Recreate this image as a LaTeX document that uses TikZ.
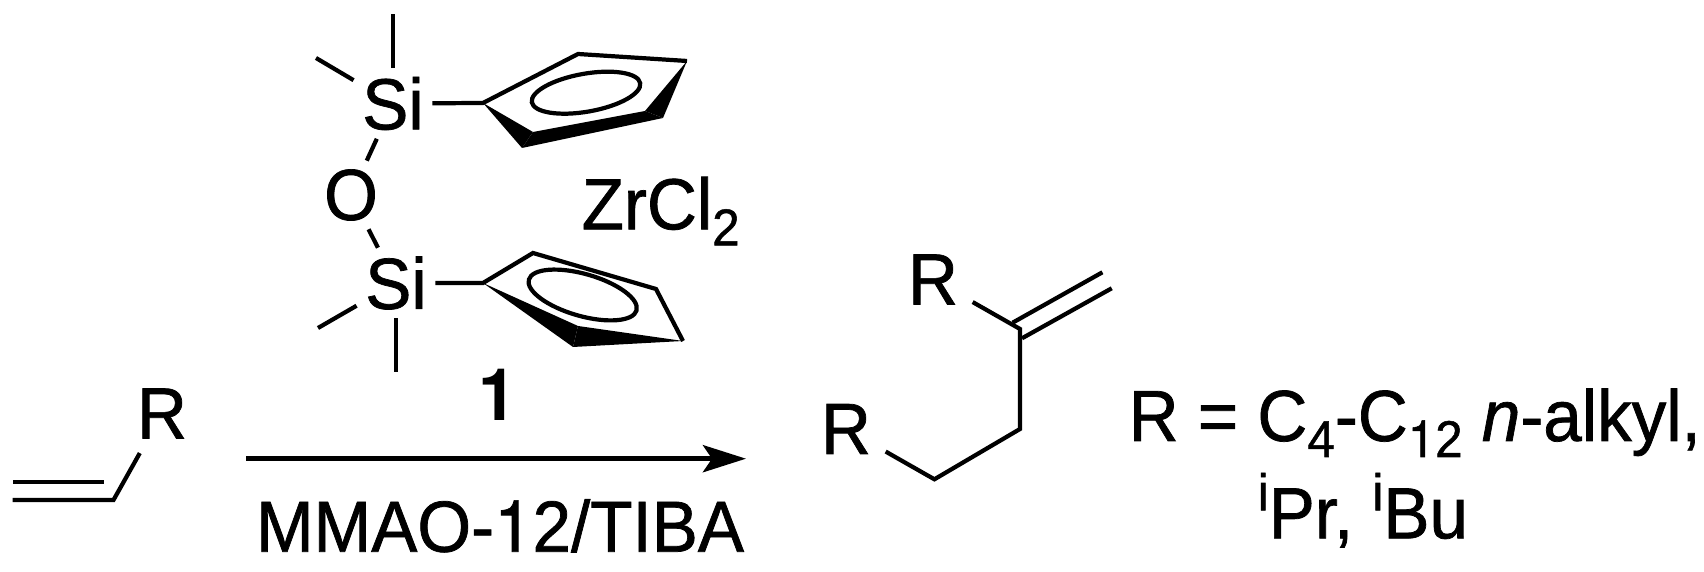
\documentclass[tikz,border=0pt]{standalone}
\usepackage{fontspec}
\setmainfont{Liberation Sans}[FakeBold=1,FakeStretch=0.955]
\newfontfamily\onefont{TeX Gyre Heros}[FakeBold=1,FakeStretch=0.955]
\newfontfamily\catfont{TeX Gyre Heros Bold}[FakeStretch=0.955]
\usetikzlibrary{arrows.meta}
\newcommand{\bigtxt}{\fontsize{20.6pt}{24pt}\selectfont}
\newcommand{\smalltxt}{\fontsize{14.7pt}{17pt}\selectfont}
\newcommand{\lowtxt}[1]{\raisebox{-0.16cm}{\smalltxt #1}}
\newcommand{\hightxt}[1]{\raisebox{0.28cm}{\smalltxt #1}}
\tikzset{
  bond/.style={line width=1.2pt},
  wedge/.style={fill=black,draw=none},
  atom/.style={font=\bigtxt,inner sep=0.08cm},
  rgroup/.style={font=\bigtxt,inner sep=0.14cm},
  txt/.style={font=\bigtxt,inner sep=0pt,anchor=base west}
}

\begin{document}
\begin{tikzpicture}
\useasboundingbox (0,0) rectangle (17.04,5.72);

\node [atom] (siA) at (3.93,4.685) {Si}; \node [atom] (oxy) at (3.51,3.77) {O}; \node [atom] (siB) at (3.96,2.89) {Si};
\coordinate (meA) at (3.93,5.58); \coordinate (meB) at (3.16,5.14); \coordinate (meC) at (3.18,2.44); \coordinate (meD) at (3.96,2.00);
\draw [bond] (siA) -- (meA); \draw [bond] (siA) -- (meB); \draw [bond] (siB) -- (meC); \draw [bond] (siB) -- (meD);
\draw [bond] (siA) -- (oxy); \draw [bond] (oxy) -- (siB);

\coordinate (cpa) at (4.83,4.69); \coordinate (cpb) at (5.78,5.18); \coordinate (cpc) at (6.87,5.11); \coordinate (cpd) at (6.45,4.61);
\coordinate (cpe) at (6.63,4.54); \coordinate (cpf) at (5.33,4.40); \coordinate (cpg) at (5.22,4.24);
\draw [bond] (siA) -- (cpa) -- (cpb) -- (cpc);
\fill [wedge] (cpa) -- (cpf) -- (cpg) -- cycle; \fill [wedge] (cpf) -- (cpd) -- (cpe) -- (cpg) -- cycle; \fill [wedge] (cpd) -- (cpc) -- (cpe) -- cycle;
\draw [bond] (5.86,4.793) ellipse [x radius=0.55, y radius=0.19, rotate=10];

\coordinate (cqa) at (4.83,2.89); \coordinate (cqb) at (5.33,3.19); \coordinate (cqc) at (6.56,2.83); \coordinate (cqd) at (6.83,2.31);
\coordinate (cqe) at (5.78,2.46); \coordinate (cqf) at (5.73,2.25);
\draw [bond] (siB) -- (cqa) -- (cqb) -- (cqc) -- (cqd);
\fill [wedge] (cqa) -- (cqe) -- (cqf) -- cycle; \fill [wedge] (cqe) -- (cqd) -- (cqf) -- cycle;
\draw [bond] (5.827,2.77) ellipse [x radius=0.56, y radius=0.21, rotate=-16];

\node [txt] (zrcl) at (5.81,3.427) {ZrCl\lowtxt{2}};
\node [txt,anchor=base] (cat) at (4.98,1.513) {\catfont 1};

\node [rgroup] (rctR) at (1.62,1.585) {R};
\coordinate (vina) at (1.135,0.72); \coordinate (vinb) at (0.125,0.72); \coordinate (vinc) at (1.035,0.897); \coordinate (vind) at (0.125,0.897);
\draw [bond] (rctR) -- (vina) -- (vinb); \draw [bond] (vinc) -- (vind);

\coordinate (arra) at (2.46,1.133); \coordinate (arrb) at (7.46,1.133);
\draw [line width=1.5pt,-{Stealth[length=0.43cm,width=0.27cm,inset=0.09cm]}] (arra) -- (arrb);
\node [txt,anchor=base] (cond) at (5.00,0.203) {MMAO-{\onefont 1}2/TIBA};

\node [rgroup] (prdA) at (9.33,2.925) {R}; \node [rgroup] (prdB) at (8.46,1.43) {R};
\coordinate (pca) at (10.20,2.43); \coordinate (pcb) at (10.20,1.43); \coordinate (pcc) at (9.344,0.927);
\coordinate (pda) at (10.126,2.493); \coordinate (pdb) at (11.024,2.997); \coordinate (pdc) at (10.22,2.337); \coordinate (pdd) at (11.117,2.837);
\draw [bond] (prdA) -- (pca) -- (pcb) -- (pcc) -- (prdB);
\draw [bond] (pda) -- (pdb); \draw [bond] (pdc) -- (pdd);

\node [txt] (defa) at (11.28,1.31) {R = C\lowtxt{4}-C\lowtxt{{\onefont 1}2} \textit{n}-alkyl,};
\node [txt] (defb) at (12.57,0.337) {\hightxt{i}Pr, \hightxt{i}Bu};
\end{tikzpicture}
\end{document}
